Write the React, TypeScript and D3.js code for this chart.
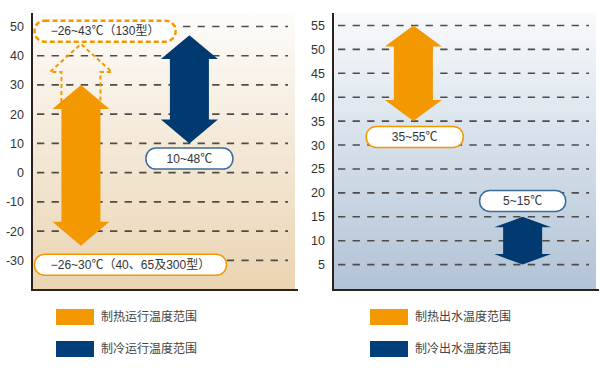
import * as React from 'react';
import * as d3 from 'd3';

// tick values for the two panels
const airTicks = [50, 40, 30, 20, 10, 0, -10, -20, -30];
const waterTicks = [55, 50, 45, 40, 35, 30, 25, 20, 15, 10, 5];

// arrow extents
const airHeat = [-25, 30];
const airHeatExt = 44; // dashed extension for the 130 model
const airCool = [10, 47];
const waterHeat = [35, 55];
const waterCool = [5, 15];

// label boxes: text, centre value (y), relative x centre, width, kind
const airLabels = [
  {text: '−26~43℃（130型）', v: 48.4, x: 0.275, w: 141, kind: 'heatDash'},
  {text: '10~48℃', v: 4.8, x: 0.597, w: 87, kind: 'cool'},
  {text: '−26~30℃（40、65及300型）', v: -31.5, x: 0.372, w: 192, kind: 'heat'},
];
const waterLabels = [
  {text: '35~55℃', v: 31.7, x: 0.308, w: 97, kind: 'heat'},
  {text: '5~15℃', v: 18.3, x: 0.72, w: 86, kind: 'cool'},
];

const airLegend = ['制热运行温度范围', '制冷运行温度范围'];
const waterLegend = ['制热出水温度范围', '制冷出水温度范围'];

const ORANGE = '#f39800';
const NAVY = '#003a70';
const FONT = '"Liberation Sans", Arial, "Noto Sans CJK SC", sans-serif';

const W = 600, H = 368;

function arrowPath(cx, yTop, yBot, sw = 39, hw = 57, hh = 24) {
  const h = Math.min(hh, (yBot - yTop) * 0.22);
  const p = d3.path();
  p.moveTo(cx, yTop);
  p.lineTo(cx + hw / 2, yTop + h);
  p.lineTo(cx + sw / 2, yTop + h);
  p.lineTo(cx + sw / 2, yBot - h);
  p.lineTo(cx + hw / 2, yBot - h);
  p.lineTo(cx, yBot);
  p.lineTo(cx - hw / 2, yBot - h);
  p.lineTo(cx - sw / 2, yBot - h);
  p.lineTo(cx - sw / 2, yTop + h);
  p.lineTo(cx - hw / 2, yTop + h);
  p.closePath();
  return p.toString();
}

function Panel({x0, x1, yTop, yBot, domain, ticks, gradId, arrows, labels, legend, legendX, ext}) {
  const y = d3.scaleLinear().domain(domain).range([yBot, yTop]);
  const x = d3.scaleLinear().domain([0, 1]).range([x0, x1]);
  return (
    <g>
      <rect x={x0} y={yTop} width={x1 - x0} height={yBot - yTop} fill={`url(#${gradId})`} />
      {ticks.map((t) => (
        <g key={t}>
          <line x1={x0 + 4} x2={x1 - 7} y1={y(t)} y2={y(t)} stroke="#4f4b49" strokeWidth={1.6} strokeDasharray="7.3,7.3" />
          <text x={x0 - 9} y={y(t)} dy="0.36em" textAnchor="end" fontSize={12.5} fill="#333" fontFamily={FONT}>{t}</text>
        </g>
      ))}
      {ext && (() => {
        const cx = x(ext.x);
        const yb = y(ext.from) + 24;
        const yTip = y(ext.to);
        const base = yTip + 28;
        const p = d3.path();
        p.moveTo(cx - 19.5, yb);
        p.lineTo(cx - 19.5, base);
        p.lineTo(cx - 31, base);
        p.lineTo(cx, yTip);
        p.lineTo(cx + 31, base);
        p.lineTo(cx + 19.5, base);
        p.lineTo(cx + 19.5, yb);
        return <path d={p.toString()} fill="none" stroke={ORANGE} strokeWidth={2} strokeDasharray="4,3" />;
      })()}
      {arrows.map((a, i) => (
        <path key={i} d={arrowPath(x(a.x), y(a.range[1]), y(a.range[0]))} fill={a.color} />
      ))}
      {labels.map((l, i) => {
        const cx = x(l.x), cy = y(l.v), h = 21;
        const stroke = l.kind === 'cool' ? '#3b6b9c' : ORANGE;
        return (
          <g key={i}>
            <rect x={cx - l.w / 2} y={cy - h / 2} width={l.w} height={h} rx={10} ry={10}
              fill="#fff" stroke={stroke} strokeWidth={l.kind === 'heatDash' ? 2.5 : 1.5}
              strokeDasharray={l.kind === 'heatDash' ? '5,3' : null} />
            <text x={cx} y={cy} dy="0.36em" textAnchor="middle" fontSize={12} fill="#333" fontFamily={FONT}>{l.text}</text>
          </g>
        );
      })}
      <line x1={x0 - 1} x2={x0 - 1} y1={yTop} y2={yBot + 2} stroke="#2b2220" strokeWidth={2} />
      <line x1={x0 - 2} x2={x1 + 3} y1={yBot + 1} y2={yBot + 1} stroke="#2b2220" strokeWidth={2} />
      {legend.map((t, i) => (
        <g key={t} transform={`translate(${legendX},${309 + i * 32})`}>
          <rect width={38} height={16} fill={i === 0 ? ORANGE : '#003f7a'} />
          <text x={45} y={8} dy="0.36em" fontSize={12} fill="#444" fontFamily={FONT}>{t}</text>
        </g>
      ))}
    </g>
  );
}

export default function App() {
  return (
    <svg width={W} height={H} style={{position: 'absolute', left: 0, top: 0, background: '#fff'}}>
      <defs>
        <linearGradient id="gAir" x1="0" y1="0" x2="0" y2="1">
          <stop offset="0" stopColor="#fdfcfa" />
          <stop offset="1" stopColor="#ead4b2" />
        </linearGradient>
        <linearGradient id="gWater" x1="0" y1="0" x2="0" y2="1">
          <stop offset="0" stopColor="#f8fafc" />
          <stop offset="1" stopColor="#b1c3d6" />
        </linearGradient>
      </defs>
      <Panel x0={33} x1={295} yTop={13} yBot={289} domain={[-39.8, 54.6]} ticks={airTicks} gradId="gAir"
        arrows={[{x: 0.183, range: airHeat, color: ORANGE}, {x: 0.597, range: airCool, color: NAVY}]}
        ext={{x: 0.183, from: airHeat[1], to: airHeatExt}}
        labels={airLabels} legend={airLegend} legendX={56} />
      <Panel x0={334} x1={596} yTop={13} yBot={289} domain={[-0.1, 57.6]} ticks={waterTicks} gradId="gWater"
        arrows={[{x: 0.303, range: waterHeat, color: ORANGE}, {x: 0.72, range: waterCool, color: NAVY}]}
        labels={waterLabels} legend={waterLegend} legendX={370} />
    </svg>
  );
}
